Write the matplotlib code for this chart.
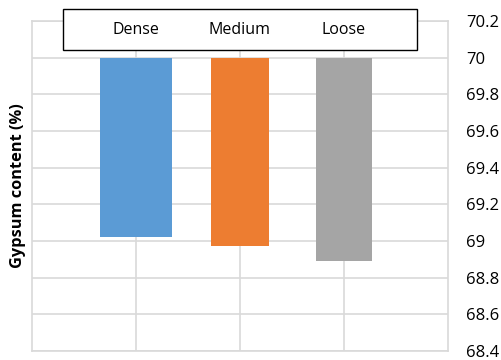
import matplotlib
matplotlib.use("Agg")
from matplotlib import pyplot as plt
from matplotlib.patches import Rectangle
import matplotlib.transforms as mtransforms

categories = ["Dense", "Medium", "Loose"]
gypsum = [69.022, 68.971, 68.889]
bar_widths = [0.70, 0.55, 0.53]
colors = ["#5B9BD5", "#ED7D31", "#A5A5A5"]
base = 70.0
yticks = [68.4, 68.6, 68.8, 69.0, 69.2, 69.4, 69.6, 69.8, 70.0, 70.2]
ytick_labels = ["68.4", "68.6", "68.8", "69", "69.2", "69.4", "69.6", "69.8", "70", "70.2"]

plt.rcParams["font.family"] = ["Open Sans", "DejaVu Sans"]

fig = plt.figure(figsize=(5.01, 3.60), dpi=100)
ax = fig.add_axes([32 / 501, 1 - 351 / 360, 416 / 501, 330 / 360])

xpos = [1, 2, 3]
for x, v, w, c in zip(xpos, gypsum, bar_widths, colors):
    ax.bar(x, v - base, bottom=base, width=w, color=c, zorder=3)

ax.set_xlim(0, 4)
ax.set_ylim(68.4, 70.2)
ax.set_yticks(yticks)
ax.set_yticklabels(ytick_labels, fontsize=12, color="#000000")
ax.set_xticks(xpos)
ax.set_xticklabels([])
ax.yaxis.tick_right()
ax.tick_params(axis="y", length=0, pad=13)
ax.tick_params(axis="x", length=0)
ax.grid(True, color="#D9D9D9", linewidth=1.2, zorder=0)
for s in ax.spines.values():
    s.set_color("#D9D9D9")
    s.set_linewidth(1.2)

fig.text(18 / 501, 1 - 186 / 360, "Gypsum content (%)", rotation=90,
         fontsize=11.8, fontweight="bold", ha="center", va="center")

# box with category names at the top
box = Rectangle((63 / 501, 1 - 50 / 360), 354 / 501, 41 / 360,
                transform=fig.transFigure, facecolor="white",
                edgecolor="black", linewidth=1.0, zorder=5)
fig.patches.append(box)
trans = mtransforms.blended_transform_factory(ax.transData, fig.transFigure)
for x, name in zip(xpos, categories):
    fig.text(x, 1 - 30 / 360, name, transform=trans, ha="center", va="center",
             fontsize=11.5, zorder=6)

fig.savefig("out.png", dpi=100)
